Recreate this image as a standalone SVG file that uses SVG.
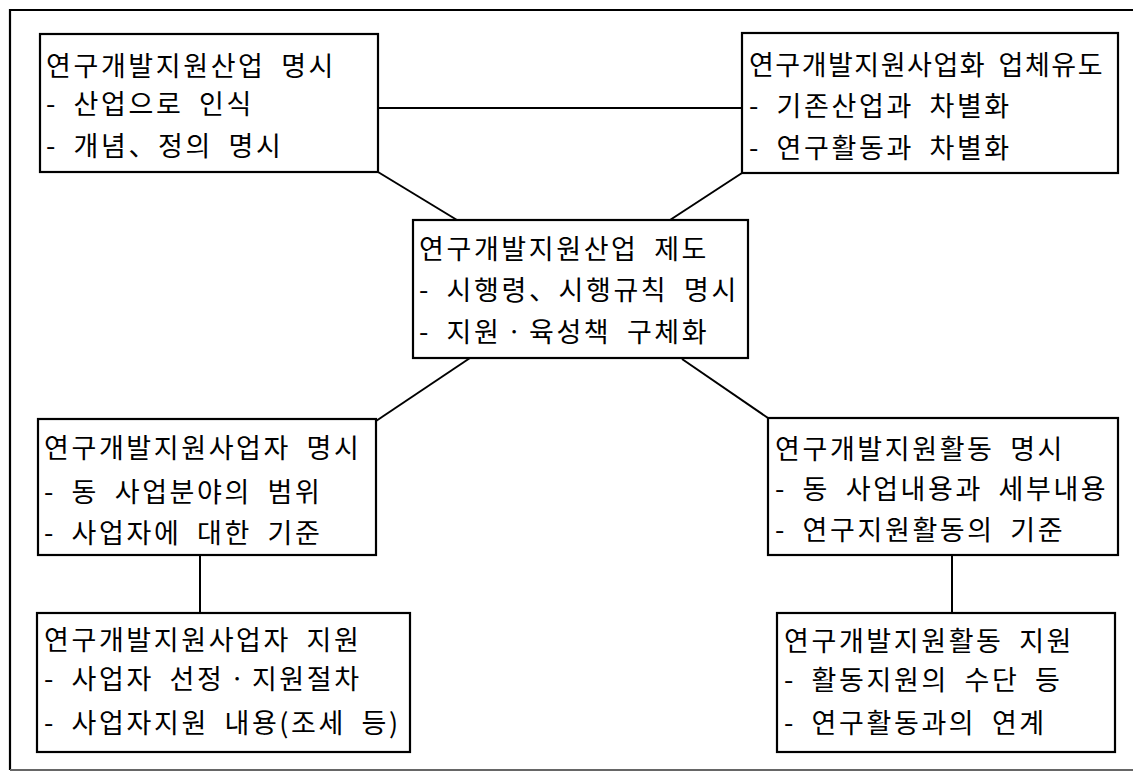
<svg xmlns="http://www.w3.org/2000/svg" width="1133" height="772" viewBox="0 0 1133 772">
<style>
.box{fill:#fff;stroke:#000;stroke-width:2.2}
.t{font-family:"Noto Sans CJK KR","Noto Sans",sans-serif;font-size:27px;fill:#000;letter-spacing:2.6px;word-spacing:7px}
.tight{letter-spacing:1.5px;word-spacing:5px}
.c{stroke:#000;stroke-width:2;fill:none}
</style>
<rect x="0" y="0" width="1133" height="772" fill="#fff"/>
<path d="M1133,10 H10 V770" fill="none" stroke="#000" stroke-width="2.2"/>
<path d="M10,770 H1133" fill="none" stroke="#666" stroke-width="2"/>
<g id="connectors">
<line class="c" x1="378" y1="108" x2="742" y2="108"/>
<line class="c" x1="378" y1="172" x2="457" y2="220"/>
<line class="c" x1="742" y1="173" x2="670" y2="220"/>
<line class="c" x1="470" y1="358" x2="376" y2="421"/>
<line class="c" x1="682" y1="359" x2="768" y2="418"/>
<line class="c" x1="200" y1="555" x2="200" y2="613" stroke-width="1.5"/>
<line class="c" x1="952" y1="555" x2="952" y2="613" stroke-width="1.5"/>
</g>
<g id="n1">
<rect class="box" x="40" y="34" width="338" height="138"/>
<text class="t" x="46" y="76">연구개발지원산업 명시</text>
<text class="t" x="46" y="114">- 산업으로 인식</text>
<text class="t" x="46" y="156">- 개념、정의 명시</text>
</g>
<g id="n2">
<rect class="box" x="742" y="33" width="376" height="140"/>
<text class="t tight" x="749" y="75">연구개발지원사업화 업체유도</text>
<text class="t" x="749" y="116">- 기존산업과 차별화</text>
<text class="t" x="749" y="158">- 연구활동과 차별화</text>
</g>
<g id="n3">
<rect class="box" x="413" y="220" width="335" height="138"/>
<text class="t" x="419" y="259">연구개발지원산업 제도</text>
<text class="t" x="419" y="300">- 시행령、시행규칙 명시</text>
<text class="t" x="419" y="342">- 지원ㆍ육성책 구체화</text>
</g>
<g id="n4">
<rect class="box" x="38" y="419" width="338" height="136"/>
<text class="t" x="44" y="458">연구개발지원사업자 명시</text>
<text class="t" x="44" y="502">- 동 사업분야의 범위</text>
<text class="t" x="44" y="543">- 사업자에 대한 기준</text>
</g>
<g id="n5">
<rect class="box" x="768" y="418" width="350" height="137"/>
<text class="t" x="775" y="459">연구개발지원활동 명시</text>
<text class="t" x="775" y="499">- 동 사업내용과 세부내용</text>
<text class="t" x="775" y="540">- 연구지원활동의 기준</text>
</g>
<g id="n6">
<rect class="box" x="37" y="613" width="373" height="139"/>
<text class="t" x="44" y="650">연구개발지원사업자 지원</text>
<text class="t" x="44" y="689">- 사업자 선정ㆍ지원절차</text>
<text class="t" x="44" y="733">- 사업자지원 내용(조세 등)</text>
</g>
<g id="n7">
<rect class="box" x="777" y="613" width="338" height="139"/>
<text class="t" x="784" y="651">연구개발지원활동 지원</text>
<text class="t" x="784" y="690">- 활동지원의 수단 등</text>
<text class="t" x="784" y="733">- 연구활동과의 연계</text>
</g>
</svg>
